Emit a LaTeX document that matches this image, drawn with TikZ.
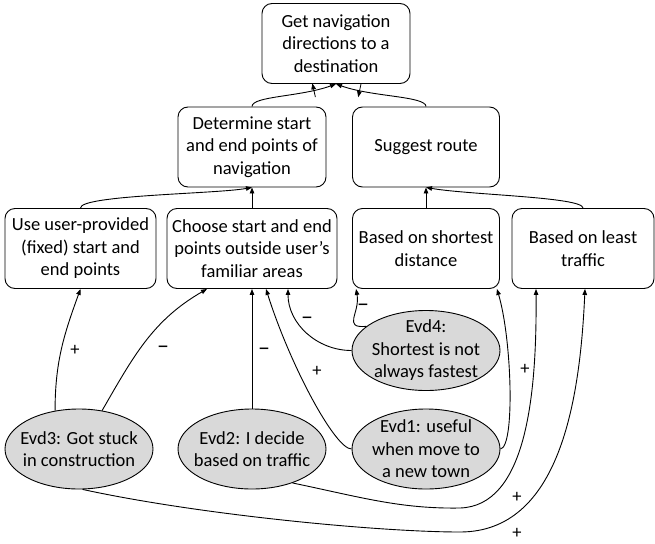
\documentclass[tikz,border=0pt]{standalone}
\usepackage{fontspec}
\setmainfont{Carlito}
\usetikzlibrary{shapes.geometric, arrows.meta, decorations.markings}

\begin{document}
\begin{tikzpicture}[x=1pt,y=1pt,line width=0.9pt,
		font=\fontsize{18.5}{22.5}\selectfont,
		box/.style = {draw,rounded corners=10pt,align=center,minimum height=80pt,inner sep=2pt},
		evd/.style = {draw,ellipse,fill=black!15,minimum width=148pt,minimum height=80pt,inner sep=0pt},
		arr/.style = {-{Triangle[length=6pt,width=4.5pt]}},
		sign/.style = {font=\fontsize{24}{24}\selectfont},
		tick/.style = {postaction={decorate,decoration={markings,
			mark=at position #1 with {\draw[line width=0.8pt] (0,-7pt) -- (0,7pt);}}}}]
		\useasboundingbox (0,0) rectangle (655,-543);
		\node [box, minimum width=148pt] (top) at (336,-43.5) {Get navigation\\directions to a\\destination};
		\node [box, minimum width=148pt] (det) at (252,-147) {Determine start\\and end points of\\navigation};
		\node [box, minimum width=147pt] (sug) at (426,-147) {Suggest route};
		\node [box, minimum width=151pt] (use) at (80.5,-248.5) {Use user-provided\\(fixed) start and\\end points};
		\node [box, minimum width=170pt] (cho) at (252,-248.5) {Choose start and end\\points outside user’s\\familiar areas};
		\node [box, minimum width=147pt] (sho) at (426,-248.5) {Based on shortest\\distance};
		\node [box, minimum width=142pt] (lea) at (583,-248.5) {Based on least\\traffic};
		\node [evd, label={[align=center]center:{Evd4:\\Shortest is not\\always fastest}}] (evd4) at (426,-350.5) {};
		\node [evd, label={[align=center]center:{Evd3: Got stuck\\in construction}}] (evd3) at (79,-449) {};
		\node [evd, label={[align=center]center:{Evd2: I decide\\based on traffic}}] (evd2) at (252,-449) {};
		\node [evd, label={[align=center]center:{Evd1: useful\\when move to\\a new town}}] (evd1) at (426,-449) {};

		\draw [arr, tick=0.74] (det.north) .. controls (252,-96) and (300,-97) .. (top.south);
		\draw [arr, tick=0.74] (sug.north) .. controls (426,-96) and (372,-97) .. (top.south);
		\draw [arr] (use.north) .. controls (80,-195) and (215,-194) .. (det.south);
		\draw [arr] (cho) -- (det);
		\draw [arr] (sho) -- (sug);
		\draw [arr] (lea.north) .. controls (583,-197) and (470,-195) .. (sug.south);

		\draw [arr] (evd3.122) to[out=90,in=-110] (use.south);
		\draw [arr] (evd3.59) to[out=60,in=-150] ([xshift=-45pt]cho.south);
		\draw [arr] (evd2) -- (cho);
		\draw [arr] (evd1.west) .. controls (335,-449) and (290,-365) .. ([xshift=14pt]cho.south);
		\draw [arr] (evd4.west) to[out=180,in=-90] ([xshift=36pt]cho.south);
		\draw [arr] (evd4.158) to[out=185,in=-80,looseness=1.6] ([xshift=4pt]sho.south west);
		\draw [arr] (evd1.east) .. controls (515,-447) and (512,-340) .. ([xshift=-3pt]sho.south east);
		\draw [arr] (evd2.-40) .. controls (360,-497) and (400,-509) .. (460,-508)
			.. controls (525,-506) and (537,-400) .. ([xshift=-47pt]lea.south);
		\draw [arr] (evd3.-85) .. controls (200,-515) and (380,-532) .. (460,-532)
			.. controls (560,-532) and (580,-400) .. ([xshift=2pt]lea.south);

		\node (p1) at (75,-350) {+};
		\node [sign] (m1) at (163,-350) {–};
		\node [sign] (m2) at (264,-352) {–};
		\node (p2) at (317,-371) {+};
		\node [sign] (m3) at (307,-321) {–};
		\node [sign] (m4) at (363,-308) {–};
		\node (p3) at (525,-369) {+};
		\node (p4) at (517,-497) {+};
		\node (p5) at (517,-533) {+};
	\end{tikzpicture}
\end{document}
